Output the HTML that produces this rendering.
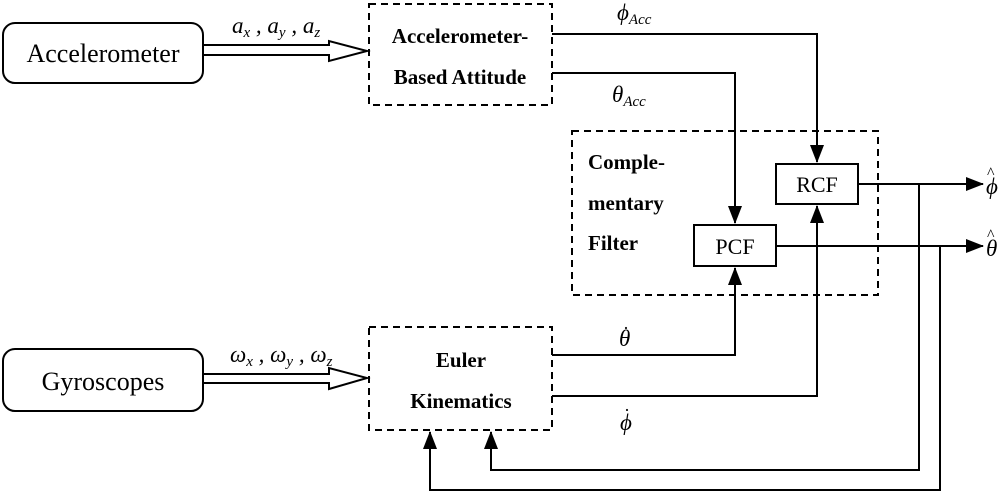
<!DOCTYPE html>
<html><head><style>body{margin:0;background:#fff}svg{display:block}</style></head><body>
<svg width="1000" height="492" viewBox="0 0 1000 492" xmlns="http://www.w3.org/2000/svg">
<defs><marker id="b" markerWidth="18" markerHeight="14" refX="17" refY="7" orient="auto" markerUnits="userSpaceOnUse"><path d="M0,0 L18,7 L0,14 Z" fill="#000"/></marker></defs>
<g fill="none" stroke="#000" stroke-width="2">
<rect x="3" y="23" width="200" height="60" rx="12"/>
<rect x="3" y="349" width="200" height="62" rx="12"/>
<g stroke-dasharray="7,5"><rect x="369" y="4" width="183" height="101"/><rect x="369" y="327" width="183" height="103"/><rect x="572" y="131" width="306" height="164"/></g>
<rect x="776" y="164" width="82" height="40"/>
<rect x="694" y="225" width="82" height="41"/>
<path d="M203,45 H329 V41 L367,51 L329,61 V55 H203"/>
<path d="M203,374 H329 V368 L367,378 L329,389 V383 H203"/>
<path d="M552,34 H817 V162" marker-end="url(#b)"/>
<path d="M552,73 H735 V223" marker-end="url(#b)"/>
<path d="M552,355 H735 V268" marker-end="url(#b)"/>
<path d="M552,396 H817 V206" marker-end="url(#b)"/>
<path d="M858,184 H983" marker-end="url(#b)"/>
<path d="M776,246 H983" marker-end="url(#b)"/>
<path d="M919,184 V470 H491 V432" marker-end="url(#b)"/>
<path d="M940,246 V490 H430 V432" marker-end="url(#b)"/>
</g>
<g font-family="Liberation Serif, serif" fill="#000">
<text x="103" y="62" font-size="26" text-anchor="middle">Accelerometer</text>
<text x="103" y="390" font-size="26" text-anchor="middle">Gyroscopes</text>
<g font-weight="bold" font-size="21" text-anchor="middle">
<text x="460" y="43">Accelerometer-</text><text x="460" y="84">Based Attitude</text>
<text x="461" y="367">Euler</text><text x="461" y="408">Kinematics</text>
<text x="588" y="169" text-anchor="start">Comple-</text><text x="588" y="210" text-anchor="start">mentary</text><text x="588" y="250" text-anchor="start">Filter</text>
</g>
<text x="817" y="192" font-size="22" text-anchor="middle">RCF</text>
<text x="735" y="254" font-size="22" text-anchor="middle">PCF</text>
<g font-style="italic" font-size="23">
<text x="232" y="33">a<tspan font-size="15" dy="4">x</tspan><tspan dy="-4"> , a</tspan><tspan font-size="15" dy="4">y</tspan><tspan dy="-4"> , a</tspan><tspan font-size="15" dy="4">z</tspan></text>
<text x="230" y="362">ω<tspan font-size="15" dy="4">x</tspan><tspan dy="-4"> , ω</tspan><tspan font-size="15" dy="4">y</tspan><tspan dy="-4"> , ω</tspan><tspan font-size="15" dy="4">z</tspan></text>
<text x="617" y="20">ϕ<tspan font-size="15" dy="4">Acc</tspan></text>
<text x="612" y="102">θ<tspan font-size="15" dy="4">Acc</tspan></text>
<text x="619" y="346">θ</text><text x="623" y="334" font-style="normal" font-size="18">·</text>
<text x="620" y="430">ϕ</text><text x="624" y="416" font-style="normal" font-size="18">·</text>
<text x="986" y="194">ϕ</text><text x="987" y="178" font-style="normal" font-size="16">^</text>
<text x="986" y="256">θ</text><text x="987" y="240" font-style="normal" font-size="16">^</text>
</g></g>
</svg></body></html>
